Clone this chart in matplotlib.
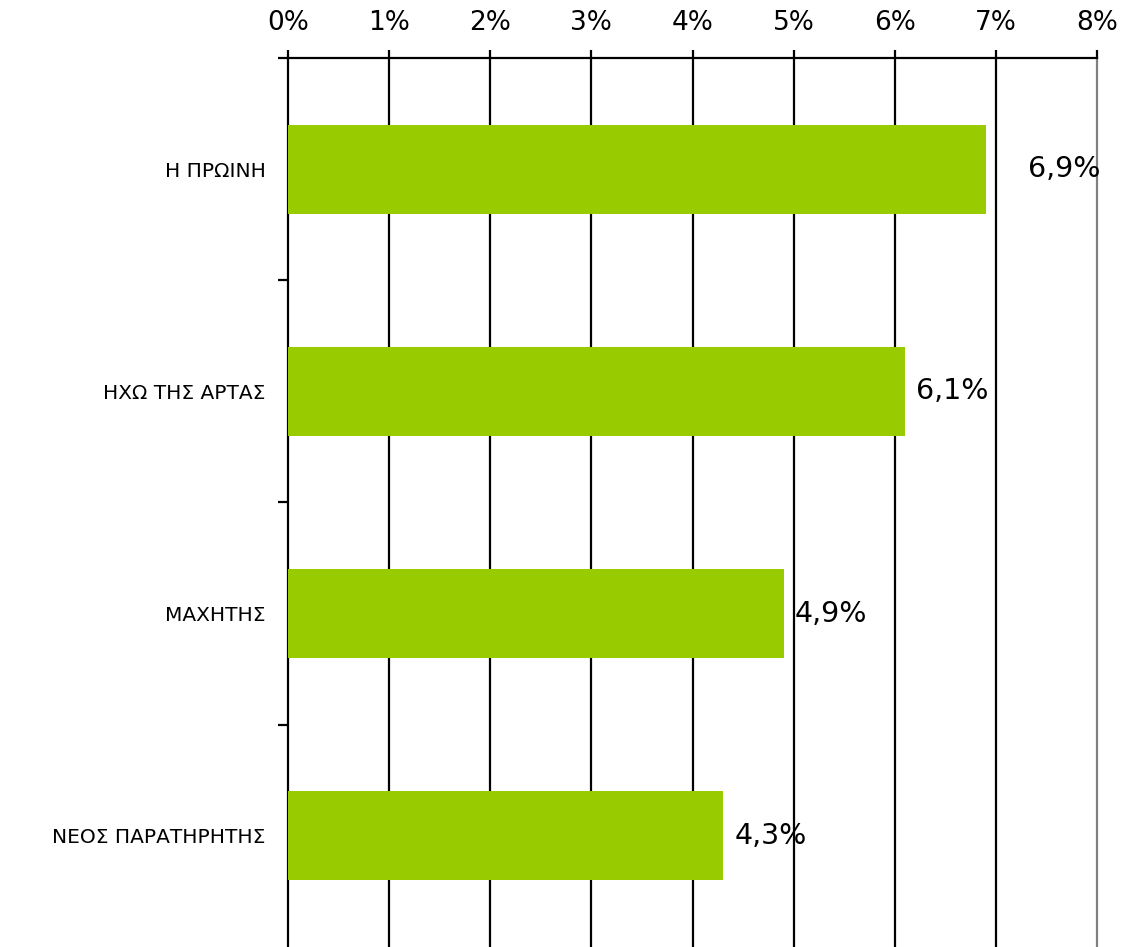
import matplotlib
matplotlib.use("Agg")
import matplotlib.pyplot as plt
import numpy as np

categories = ["Η ΠΡΩΙΝΗ", "ΗΧΩ ΤΗΣ ΑΡΤΑΣ", "ΜΑΧΗΤΗΣ", "ΝΕΟΣ ΠΑΡΑΤΗΡΗΤΗΣ"]
values = [6.9, 6.1, 4.9, 4.3]
value_labels = ["6,9%", "6,1%", "4,9%", "4,3%"]
x_ticks = [0, 1, 2, 3, 4, 5, 6, 7, 8]
x_tick_labels = ["0%", "1%", "2%", "3%", "4%", "5%", "6%", "7%", "8%"]

plt.rcParams['font.family'] = ['DejaVu Sans']

fig = plt.figure(figsize=(11.22, 9.47), dpi=100)
ax = fig.add_axes([288/1122, 0.0, (1097-288)/1122, 1 - 58/947])

y = np.arange(len(categories))
ax.barh(y, values, height=0.4, color="#99CC00", zorder=3)

ax.set_xlim(0, 8)
ax.set_ylim(len(categories) - 0.5, -0.5)

# vertical gridlines
for xv in x_ticks[1:-1]:
    ax.axvline(xv, color="black", lw=1.6, zorder=2)

ax.xaxis.tick_top()
ax.set_xticks(x_ticks)
ax.set_xticklabels(x_tick_labels, fontsize=19)
ax.tick_params(axis="x", direction="out", length=6, width=1.6, pad=10, color="black")

# category boundaries as major ticks, labels as minor ticks
ax.set_yticks(np.arange(-0.5, len(categories) - 0.5, 1.0))
ax.set_yticklabels([])
ax.tick_params(axis="y", which="major", direction="out", length=7, width=1.6)
ax.set_yticks(y, minor=True)
ax.set_yticklabels(categories, minor=True, fontsize=14.5)
ax.tick_params(axis="y", which="minor", length=0, pad=16)

for s in ["top", "left"]:
    ax.spines[s].set_linewidth(1.6)
    ax.spines[s].set_color("black")
ax.spines["right"].set_color("#808080")
ax.spines["right"].set_linewidth(1.6)
ax.spines["bottom"].set_visible(False)

label_offsets = [0.42, 0.11, 0.11, 0.12]
for yi, v, lab, off in zip(y, values, value_labels, label_offsets):
    ax.text(v + off, yi, lab, va="center", ha="left", fontsize=20.5, zorder=4)

fig.savefig("out.png", dpi=100)
